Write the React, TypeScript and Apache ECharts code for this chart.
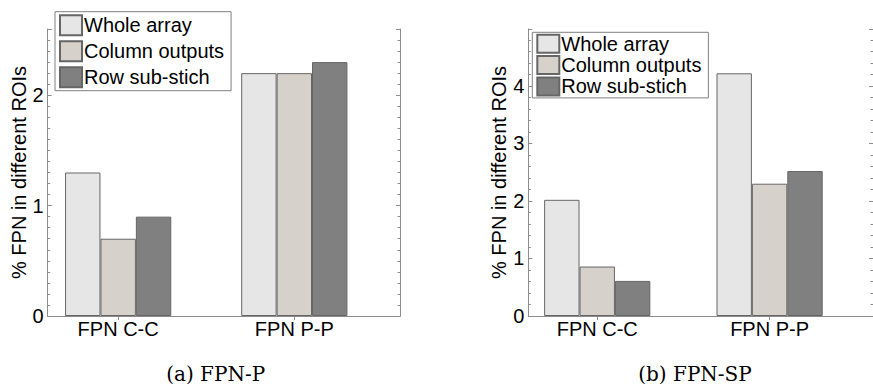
import React, { useEffect, useRef } from "react";
import * as echarts from "echarts";

const categories = ["FPN C-C", "FPN P-P"];
const seriesNames = ["Whole array", "Column outputs", "Row sub-stich"];
const fpnPWhole = [1.3, 2.2];
const fpnPColumn = [0.7, 2.2];
const fpnPRow = [0.9, 2.3];
const fpnSPWhole = [2.02, 4.22];
const fpnSPColumn = [0.86, 2.3];
const fpnSPRow = [0.61, 2.52];
const captions = ["(a) FPN-P", "(b) FPN-SP"];
const yTitle = "% FPN in different ROIs";

const colors = ["#e6e6e6", "#d6d2cb", "#808080"];
const SANS = "Liberation Sans, Arial, sans-serif";
const AXIS = "#8c8c8c";

export default function App() {
  const ref = useRef<HTMLDivElement>(null);
  useEffect(() => {
    if (!ref.current) return;
    const chart = echarts.init(ref.current, undefined, { renderer: "svg" });
    const pos = categories.map((_, i) => i + 1);
    const xMin = 0.6;
    const xMax = 2.6;
    const grids = [
      { left: 47.7, top: 29, width: 352.3, height: 287 },
      { left: 528.3, top: 29, width: 352.3, height: 287 },
    ];
    const yMax = [2.6, 4.99];
    const minorSplit = [10, 5];
    const xAxes: any[] = [];
    const yAxes: any[] = [];
    grids.forEach((_, g) => {
      xAxes.push({
        type: "value", gridIndex: g, position: "bottom", min: xMin, max: xMax,
        axisLine: { show: true, lineStyle: { color: AXIS, width: 1 } },
        axisTick: { show: true, inside: true, length: 4, customValues: pos, lineStyle: { color: AXIS } },
        axisLabel: {
          show: true, customValues: pos, margin: 3, color: "#000", fontSize: 20, fontFamily: SANS,
          formatter: (v: number) => categories[Math.round(v) - 1] ?? "",
        },
        splitLine: { show: false },
      });
      xAxes.push({
        type: "value", gridIndex: g, position: "top", min: xMin, max: xMax,
        axisLine: { show: true, lineStyle: { color: AXIS, width: 1 } },
        axisTick: { show: true, inside: true, length: 4, customValues: pos, lineStyle: { color: AXIS } },
        axisLabel: { show: false },
        splitLine: { show: false },
      });
      yAxes.push({
        type: "value", gridIndex: g, position: "left", min: 0, max: yMax[g], interval: 1,
        name: yTitle, nameLocation: "middle", nameGap: 18,
        nameTextStyle: { color: "#000", fontSize: 20, fontFamily: SANS },
        axisLine: { show: true, lineStyle: { color: AXIS, width: 1 } },
        axisTick: { show: true, inside: true, length: 4, lineStyle: { color: AXIS } },
        minorTick: { show: true, splitNumber: minorSplit[g], length: 2.5, lineStyle: { color: AXIS } },
        axisLabel: { show: true, margin: 4, color: "#000", fontSize: 20, fontFamily: SANS, showMaxLabel: false },
        splitLine: { show: false },
      });
      yAxes.push({
        type: "value", gridIndex: g, position: "right", min: 0, max: yMax[g], interval: 1,
        axisLine: { show: true, lineStyle: { color: AXIS, width: 1 } },
        axisTick: { show: true, inside: true, length: 4, lineStyle: { color: AXIS } },
        minorTick: { show: true, splitNumber: minorSplit[g], length: 2.5, lineStyle: { color: AXIS } },
        axisLabel: { show: false },
        splitLine: { show: false },
      });
    });
    const dataSets = [
      [fpnPWhole, fpnPColumn, fpnPRow],
      [fpnSPWhole, fpnSPColumn, fpnSPRow],
    ];
    const series: any[] = [];
    dataSets.forEach((set, g) => {
      set.forEach((vals, s) => {
        series.push({
          type: "bar",
          name: seriesNames[s],
          xAxisIndex: g * 2,
          yAxisIndex: g * 2,
          barWidth: 35.4,
          barGap: "0%",
          data: vals.map((v, i) => [pos[i], v]),
          itemStyle: { color: colors[s], borderColor: "#666666", borderWidth: 1 },
        });
      });
    });
    const legendBase = {
      orient: "vertical",
      selectedMode: false,
      backgroundColor: "#fff",
      borderColor: "#808080",
      borderWidth: 1,
      itemWidth: 22,
      icon: "rect",
      data: seriesNames,
      z: 10,
    };
    chart.setOption({
      animation: false,
      grid: grids.map((g) => ({ ...g, containLabel: false })),
      xAxis: xAxes,
      yAxis: yAxes,
      series,
      legend: [
        {
          ...legendBase, left: 55, top: 11.7, itemHeight: 20, itemGap: 4, padding: [2.5, 7, 2.5, 4],
          textStyle: { color: "#000", fontSize: 20, fontFamily: SANS, padding: [0, 0, 0, -3] },
        },
        {
          ...legendBase, left: 532.3, top: 32.3, itemHeight: 18, itemGap: 1.3, padding: [1.5, 7, 1.5, 4],
          textStyle: { color: "#000", fontSize: 20, fontFamily: SANS, padding: [0, 0, 0, -3] },
        },
      ],
      graphic: [
        {
          type: "text", x: 215.7, y: 374,
          style: { text: captions[0], fontSize: 20, fontFamily: "DejaVu Serif, serif", fill: "#000", textAlign: "center", textVerticalAlign: "middle" },
        },
        {
          type: "text", x: 695, y: 374,
          style: { text: captions[1], fontSize: 20, fontFamily: "DejaVu Serif, serif", fill: "#000", textAlign: "center", textVerticalAlign: "middle" },
        },
      ],
    });
    return () => chart.dispose();
  }, []);
  return (
    <div
      ref={ref}
      style={{ position: "absolute", left: 0, top: 0, width: 873, height: 387, background: "#fff" }}
    />
  );
}
